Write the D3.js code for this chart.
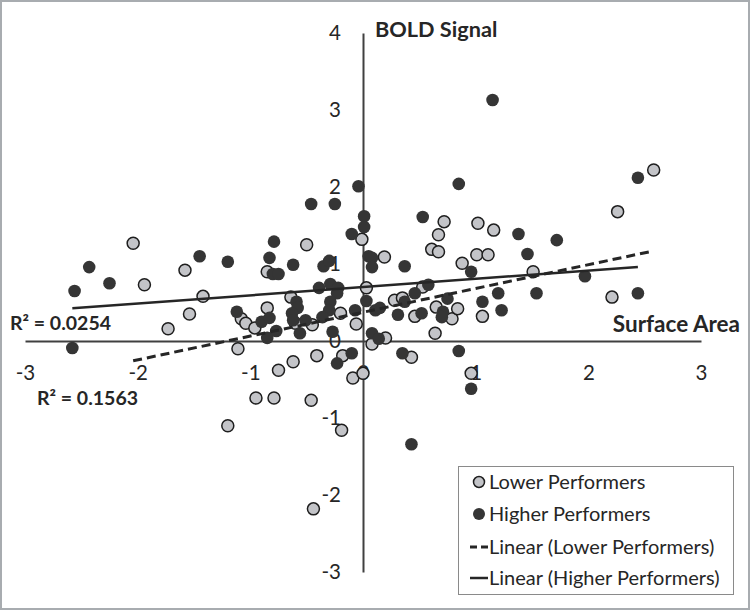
<!DOCTYPE html>
<html><head><meta charset="utf-8">
<script src="https://cdn.jsdelivr.net/npm/d3@7"></script>
<style>
html,body{margin:0;padding:0;background:#fff;}
svg text{font-family:Lato,"Open Sans",sans-serif;fill:#262626;}
</style></head>
<body><svg id="c" width="750" height="610"></svg>
<script>
// Lower Performers [surface area, BOLD signal]
const lowerX = [-2.04,-1.94,-1.58,-1.42,-1.54,-1.73,-1.11,-0.85,-0.50,-0.64,-0.01,0.03,-0.85,-1.08,-1.04,-0.96,-0.60,-0.45,-0.20,-0.06,-0.75,-0.62,-0.41,-0.18,-0.09,0.00,-0.95,-0.79,-0.46,-1.20,-0.19,-0.44,0.19,0.72,0.67,1.02,1.16,0.61,0.67,1.01,1.11,0.88,0.53,0.28,0.35,0.46,0.65,0.79,0.84,1.06,0.64,0.20,0.08,0.43,0.96,1.51,2.21,2.26,2.58];
const lowerY = [1.27,0.73,0.92,0.58,0.35,0.16,-0.10,0.90,1.25,0.57,1.32,0.69,0.43,0.29,0.23,0.17,0.23,0.21,0.36,0.22,-0.38,-0.27,-0.19,-0.19,-0.48,-0.42,-0.74,-0.74,-0.77,-1.10,-1.16,-2.18,1.09,1.55,1.38,1.53,1.44,1.19,1.16,1.12,1.12,1.01,0.70,0.53,0.56,0.32,0.44,0.29,0.42,0.32,0.10,0.04,-0.04,-0.21,-0.42,0.90,0.57,1.68,2.22];
// Higher Performers
const higherX = [-2.56,-2.43,-2.25,-2.58,-1.45,-1.20,-0.83,-0.79,-0.80,-0.75,-0.62,-0.46,-0.25,-0.35,-0.30,-0.04,0.01,0.01,-0.10,-0.39,-0.29,-0.22,-0.23,-0.29,-0.30,-0.59,-0.58,-0.63,-0.62,-0.51,-0.56,-0.36,-0.27,-0.07,-1.12,-0.90,-0.83,-0.77,-0.85,-0.10,-0.23,0.05,0.08,0.08,0.37,0.03,0.11,0.15,0.37,0.46,0.58,0.31,0.52,0.75,0.71,0.70,1.06,1.20,1.23,0.08,0.14,0.35,0.85,0.96,0.43,0.53,0.85,1.15,0.96,1.38,1.72,1.46,1.97,1.54,2.44,2.44];
const higherY = [0.65,0.96,0.75,-0.09,1.10,1.03,1.08,1.29,0.87,0.87,0.99,1.78,1.78,0.97,1.04,2.01,1.62,1.48,1.39,0.69,0.74,0.69,0.62,0.51,0.40,0.51,0.43,0.36,0.27,0.27,0.10,0.31,0.12,0.40,0.38,0.25,0.30,0.13,0.04,-0.16,-0.29,1.10,1.08,0.96,0.97,0.52,0.40,0.43,0.51,0.62,0.73,0.34,0.36,0.55,0.38,0.31,0.51,0.62,0.40,0.10,0.03,-0.16,-0.13,-0.62,-1.34,1.61,2.04,3.13,0.90,1.39,1.31,1.13,0.84,0.62,0.62,2.12];
// Linear trend coefficients [slope, intercept]
const trendLower = [0.309, 0.373];
const trendHigher = [0.107, 0.700];
const r2Labels = ["R\u00b2 = 0.0254", "R\u00b2 = 0.1563"];
const xTicks = [-3,-2,-1,0,1,2,3];
const yTicks = [-3,-2,-1,0,1,2,3,4];
const legendLabels = ["Lower Performers","Higher Performers","Linear (Lower Performers)","Linear (Higher Performers)"];

const svg = d3.select("#c");
svg.append("rect").attr("x",1).attr("y",1).attr("width",748).attr("height",608)
  .attr("fill","#fff").attr("stroke","#a8acb0").attr("stroke-width",2);

const x = d3.scaleLinear().domain([-3,3]).range([25,701]);
const y = d3.scaleLinear().domain([-3,4]).range([572,33]);

const axisColor = "#404040";
const xAxis = svg.append("g").attr("transform",`translate(0,${y(0)})`)
  .call(d3.axisBottom(x).tickValues(xTicks).tickSize(0).tickPadding(24).tickFormat(d3.format("d")));
const yAxis = svg.append("g").attr("transform",`translate(${x(0)},0)`)
  .call(d3.axisLeft(y).tickValues(yTicks).tickSize(0).tickPadding(22).tickFormat(d3.format("d")));
[xAxis,yAxis].forEach(g=>{
  g.select(".domain").attr("stroke",axisColor).attr("stroke-width",2);
  g.selectAll("text").attr("font-size",20.5).attr("font-family","Lato,sans-serif").attr("fill","#262626");
});
xAxis.selectAll("text").text(d=>String(d).replace("\u2212","-"));
yAxis.selectAll("text").text(d=>String(d).replace("\u2212","-"));

svg.append("text").attr("x",375).attr("y",37).attr("font-size",21.7).attr("font-weight","bold").text("BOLD Signal");
svg.append("text").attr("x",740).attr("y",332).attr("text-anchor","end").attr("font-size",22.5).attr("font-weight","bold").text("Surface Area");

// trendlines
function trendPts(xs, c){ const e=d3.extent(xs); return e.map(v=>[v, c[0]*v+c[1]]); }
const line = d3.line().x(d=>x(d[0])).y(d=>y(d[1]));

const lowerPts = lowerX.map((v,i)=>[v,lowerY[i]]);
const higherPts = higherX.map((v,i)=>[v,higherY[i]]);

svg.append("g").selectAll("circle").data(lowerPts).join("circle")
  .attr("cx",d=>x(d[0])).attr("cy",d=>y(d[1])).attr("r",6)
  .attr("fill","#c3c4c8").attr("stroke","#1e1e1e").attr("stroke-width",1.5);
svg.append("g").selectAll("circle").data(higherPts).join("circle")
  .attr("cx",d=>x(d[0])).attr("cy",d=>y(d[1])).attr("r",6.3)
  .attr("fill","#353535");

svg.append("path").attr("d",line(trendPts(lowerX,trendLower))).attr("fill","none")
  .attr("stroke","#262626").attr("stroke-width",3).attr("stroke-dasharray","9,5");
svg.append("path").attr("d",line(trendPts(higherX,trendHigher))).attr("fill","none")
  .attr("stroke","#262626").attr("stroke-width",2.5);

svg.append("text").attr("x",10).attr("y",330).attr("font-size",19.5).attr("font-weight","bold").text(r2Labels[0]);
svg.append("text").attr("x",37).attr("y",405).attr("font-size",19.5).attr("font-weight","bold").text(r2Labels[1]);

// legend
const lg = svg.append("g");
lg.append("rect").attr("x",458.5).attr("y",466.5).attr("width",275).attr("height",128)
  .attr("fill","#fff").attr("stroke","#8a8a8a").attr("stroke-width",1);
const rowY = [482,514,547,578];
legendLabels.forEach((t,i)=>{
  const yy = rowY[i];
  if(i===0) lg.append("circle").attr("cx",479).attr("cy",yy).attr("r",5.5).attr("fill","#c3c4c8").attr("stroke","#1e1e1e").attr("stroke-width",1.5);
  if(i===1) lg.append("circle").attr("cx",479).attr("cy",yy).attr("r",6).attr("fill","#353535");
  if(i===2) lg.append("line").attr("x1",470).attr("x2",488).attr("y1",yy).attr("y2",yy).attr("stroke","#262626").attr("stroke-width",3).attr("stroke-dasharray","7,4");
  if(i===3) lg.append("line").attr("x1",470).attr("x2",488).attr("y1",yy).attr("y2",yy).attr("stroke","#262626").attr("stroke-width",2.5);
  lg.append("text").attr("x",489).attr("y",yy+7).attr("font-size",20).text(t);
});
</script></body></html>
